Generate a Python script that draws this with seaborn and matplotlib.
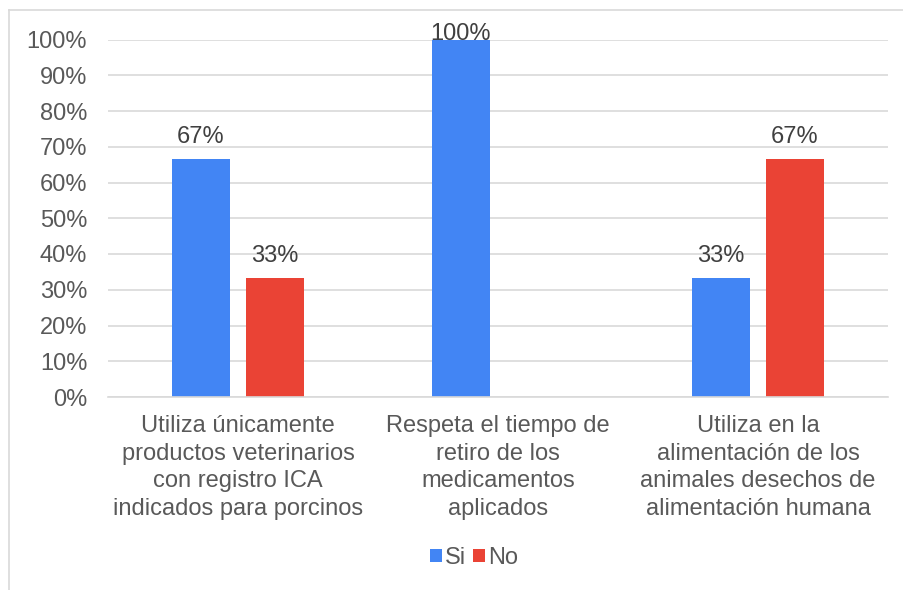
import pandas as pd
import matplotlib.pyplot as plt
import seaborn as sns
from matplotlib.lines import Line2D
from matplotlib.patches import Patch
from matplotlib.ticker import PercentFormatter

# Datos
categorias = [
    "Utiliza únicamente\nproductos veterinarios\ncon registro ICA\nindicados para porcinos",
    "Respeta el tiempo de\nretiro de los\nmedicamentos\naplicados",
    "Utiliza en la\nalimentación de los\nanimales desechos de\nalimentación humana",
]
si = [0.6667, 1.0, 0.3333]
no = [0.3333, 0.0, 0.6667]
series = ["Si", "No"]
colores = ["#4285F4", "#EA4335"]

df = pd.DataFrame({"Categoria": categorias, "Si": si, "No": no})
df_melted = df.melt(id_vars="Categoria", var_name="Respuesta", value_name="Valor")

plt.rcParams["font.family"] = ["Liberation Sans", "DejaVu Sans"]
gris = "#595959"
fs = 17

fig = plt.figure(figsize=(9.04, 5.90), dpi=100)
ax = fig.add_axes([108 / 904, 1 - 397 / 590, 780 / 904, 357.5 / 590])

sns.barplot(data=df_melted, x="Categoria", y="Valor", hue="Respuesta",
            hue_order=series, palette=colores, width=0.57, gap=0.22,
            saturation=1, legend=False, ax=ax)

# Etiquetas de datos
for patch in ax.patches:
    h = patch.get_height()
    if h <= 0:
        continue
    pad = -4 if h >= 0.99 else 8
    ax.annotate(f"{h:.0%}", (patch.get_x() + patch.get_width() / 2, h),
                xytext=(0, pad), textcoords="offset points",
                ha="center", va="bottom", fontsize=fs, color="#404040",
                clip_on=False)

ax.set_ylim(0, 1.0)
ax.set_yticks([i / 10 for i in range(11)])
ax.yaxis.set_major_formatter(PercentFormatter(1.0, decimals=0))
ax.set_xlim(-0.5, 2.5)
ax.grid(axis="y", color="#d9d9d9", linewidth=1.2)
ax.set_axisbelow(True)
for s in ["top", "right", "left"]:
    ax.spines[s].set_visible(False)
ax.spines["bottom"].set_color("#d9d9d9")
ax.spines["bottom"].set_linewidth(1.2)
ax.tick_params(axis="both", length=0, labelsize=fs, colors=gris)
ax.tick_params(axis="y", pad=15)
ax.tick_params(axis="x", pad=13)
for lbl in ax.get_xticklabels():
    lbl.set_linespacing(1.33)
ax.set_xlabel("")
ax.set_ylabel("")

# Leyenda
handles = [Patch(facecolor=c, edgecolor="none") for c in colores]
fig.legend(handles, series, loc="center", bbox_to_anchor=(474 / 904, 1 - 558 / 590),
           ncol=2, frameon=False, fontsize=fs, labelcolor=gris,
           handlelength=0.5, handleheight=0.5, handletextpad=0.12, columnspacing=0.3)

# Borde del gráfico
fig.add_artist(Line2D([9 / 904, 9 / 904], [0, 1 - 10 / 590], color="#d9d9d9", linewidth=1.2))
fig.add_artist(Line2D([9 / 904, 1], [1 - 10 / 590, 1 - 10 / 590], color="#d9d9d9", linewidth=1.2))

plt.savefig("out.png", dpi=100)
